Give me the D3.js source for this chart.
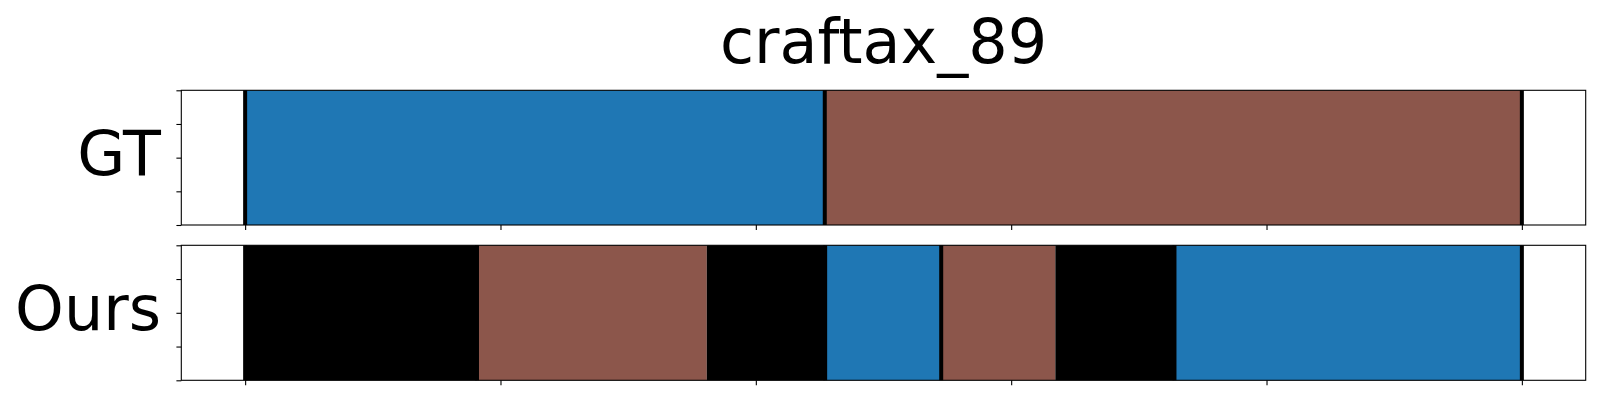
<!DOCTYPE html>
<html>
<head>
<meta charset="utf-8">
<script src="https://cdn.jsdelivr.net/npm/d3@7"></script>
<style>
  html, body { margin: 0; padding: 0; background: #fff; }
  svg { display: block; font-family: "DejaVu Sans", sans-serif; }
</style>
</head>
<body>
<svg id="chart" width="1600" height="400"></svg>
<script>
// ---- data (normalized time, 0..1) ----
const title = "craftax_89";
const rowLabels = ["GT", "Ours"];
const gtStarts = [0.0, 0.454];
const gtEnds   = [0.454, 1.0];
const gtClasses = ["blue", "brown"];
const oursStarts = [0.0, 0.1816, 0.3616, 0.4543, 0.5452, 0.6346, 0.7279];
const oursEnds   = [0.1816, 0.3616, 0.4543, 0.5452, 0.6346, 0.7279, 1.0];
const oursClasses = ["black", "brown", "black", "blue", "brown", "black", "blue"];
const xTicks = [0, 0.2, 0.4, 0.6, 0.8, 1.0];
const yTicks = [0, 0.25, 0.5, 0.75, 1.0];

const colorMap = { blue: "#1f77b4", brown: "#8c564b", black: "#000000" };

const svg = d3.select("#chart");
const left = 181.3, right = 1585.7;
const x = d3.scaleLinear().domain([-0.05, 1.05]).range([left, right]);

const panels = [
  { label: rowLabels[0], top: 90.3, bottom: 225.0, starts: gtStarts, ends: gtEnds, classes: gtClasses },
  { label: rowLabels[1], top: 245.3, bottom: 380.3, starts: oursStarts, ends: oursEnds, classes: oursClasses }
];

// title
svg.append("text")
  .attr("x", (left + right) / 2)
  .attr("y", 63)
  .attr("text-anchor", "middle")
  .attr("font-size", 62)
  .attr("fill", "#000")
  .text(title);

panels.forEach(p => {
  const y = d3.scaleLinear().domain([0, 1]).range([p.bottom, p.top]);
  const g = svg.append("g");
  const segs = p.starts.map((s, i) => ({ s, e: p.ends[i], c: p.classes[i] }));

  g.selectAll("rect.seg").data(segs).enter().append("rect")
    .attr("class", "seg")
    .attr("x", d => x(d.s))
    .attr("width", d => x(d.e) - x(d.s))
    .attr("y", y(1))
    .attr("height", y(0) - y(1))
    .attr("fill", d => colorMap[d.c]);

  // boundary lines at the first start, starts of coloured segments, and the end
  const bounds = segs.filter((d, i) => i === 0 || d.c !== "black").map(d => d.s);
  bounds.push(p.ends[p.ends.length - 1]);
  g.selectAll("line.bnd").data(bounds).enter().append("line")
    .attr("x1", d => x(d)).attr("x2", d => x(d))
    .attr("y1", y(0)).attr("y2", y(1))
    .attr("stroke", "#000").attr("stroke-width", 4);

  // axes
  const xAxis = d3.axisBottom(x).tickValues(xTicks).tickFormat("").tickSizeInner(4.9).tickSizeOuter(0);
  const gx = g.append("g").attr("transform", `translate(0,${p.bottom})`).call(xAxis);
  gx.select(".domain").remove();
  gx.selectAll("line").attr("stroke", "#000").attr("stroke-width", 1.1);

  const yAxis = d3.axisLeft(y).tickValues(yTicks).tickFormat("").tickSizeInner(4.9).tickSizeOuter(0);
  const gy = g.append("g").attr("transform", `translate(${left},0)`).call(yAxis);
  gy.select(".domain").remove();
  gy.selectAll("line").attr("stroke", "#000").attr("stroke-width", 1.1);

  // spines
  g.append("rect")
    .attr("x", left).attr("y", p.top)
    .attr("width", right - left).attr("height", p.bottom - p.top)
    .attr("fill", "none").attr("stroke", "#000").attr("stroke-width", 1.1);

  // row label
  g.append("text")
    .attr("x", 161)
    .attr("y", (p.top + p.bottom) / 2 + 17)
    .attr("text-anchor", "end")
    .attr("font-size", 62)
    .attr("fill", "#000")
    .text(p.label);
});
</script>
</body>
</html>
